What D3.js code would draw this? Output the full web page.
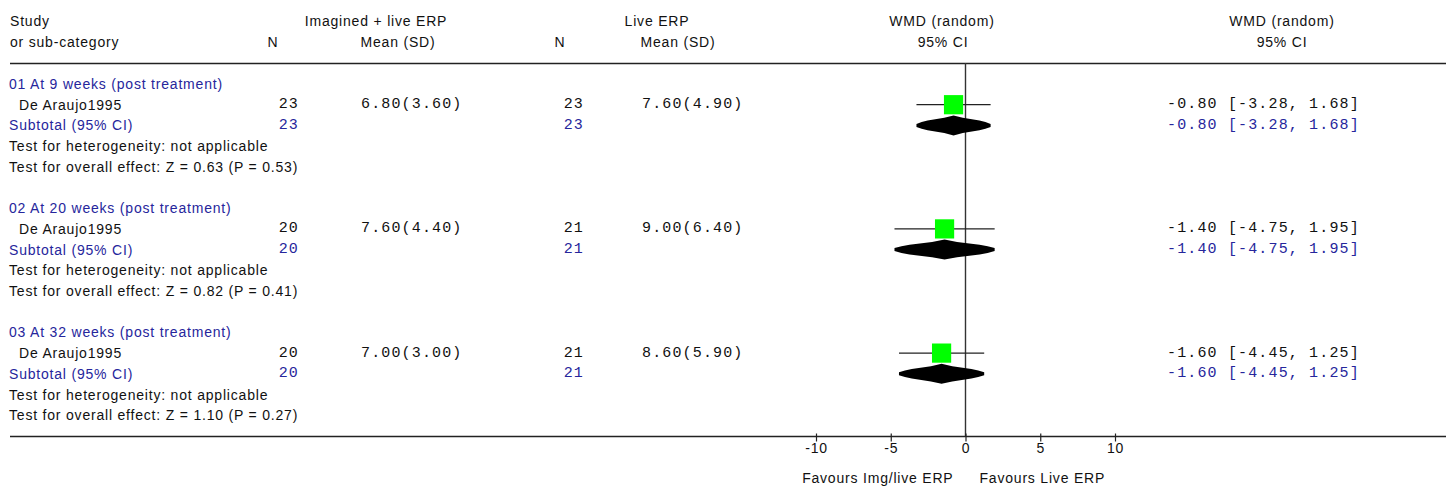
<!DOCTYPE html>
<html><head><meta charset="utf-8">
<script src="https://cdn.jsdelivr.net/npm/d3@7"></script>
<style>
html,body{margin:0;padding:0;background:#fff;}
svg{display:block;}
.sans{font-family:"Liberation Sans",Arial,sans-serif;font-size:14px;letter-spacing:0.8px;}
.mono{font-family:"Liberation Mono","Courier New",monospace;font-size:15px;letter-spacing:1.15px;}
</style>
</head><body>
<script>
// ---- data ----
const groups = ["01 At 9 weeks (post treatment)", "02 At 20 weeks (post treatment)", "03 At 32 weeks (post treatment)"];
const studies = ["De Araujo1995", "De Araujo1995", "De Araujo1995"];
const nImagined = [23, 20, 20];
const meanImagined = ["6.80(3.60)", "7.60(4.40)", "7.00(3.00)"];
const nLive = [23, 21, 21];
const meanLive = ["7.60(4.90)", "9.00(6.40)", "8.60(5.90)"];
const wmd = [-0.80, -1.40, -1.60];
const ciLow = [-3.28, -4.75, -4.45];
const ciHigh = [1.68, 1.95, 1.25];
const heterogeneity = ["Test for heterogeneity: not applicable", "Test for heterogeneity: not applicable", "Test for heterogeneity: not applicable"];
const overall = ["Test for overall effect: Z = 0.63 (P = 0.53)", "Test for overall effect: Z = 0.82 (P = 0.41)", "Test for overall effect: Z = 1.10 (P = 0.27)"];
const axisTicks = [-10, -5, 0, 5, 10];
const favoursLeft = "Favours Img/live ERP";
const favoursRight = "Favours Live ERP";

const W = 1453, H = 488;
const BLUE = "#26269c", INK = "#111";
const svg = d3.select("body").append("svg").attr("width", W).attr("height", H);

const x = d3.scaleLinear().domain([-10, 10]).range([816, 1115]);
const y = d3.scaleLinear().domain([0, 16]).range([84, 415.2]);

function txt(xp, yp, s, opts = {}) {
  return svg.append("text").attr("x", xp).attr("y", yp)
    .attr("class", opts.mono ? "mono" : "sans")
    .attr("fill", opts.color || INK)
    .attr("text-anchor", opts.anchor || "start")
    .attr("dominant-baseline", "central")
    .text(s);
}

// header
txt(10, 21, "Study");
txt(10, 42, "or sub-category");
txt(376, 21, "Imagined + live ERP", {anchor: "middle"});
txt(273, 42, "N", {anchor: "middle"});
txt(398, 42, "Mean (SD)", {anchor: "middle"});
txt(657, 21, "Live ERP", {anchor: "middle"});
txt(560, 42, "N", {anchor: "middle"});
txt(678, 42, "Mean (SD)", {anchor: "middle"});
txt(942, 21, "WMD (random)", {anchor: "middle"});
txt(943, 42, "95% CI", {anchor: "middle"});
txt(1282, 21, "WMD (random)", {anchor: "middle"});
txt(1282, 42, "95% CI", {anchor: "middle"});

svg.append("line").attr("x1", 10).attr("x2", 1446).attr("y1", 63.5).attr("y2", 63.5)
  .attr("stroke", "#222").attr("stroke-width", 1.6);

// zero line
svg.append("line").attr("x1", x(0)).attr("x2", x(0)).attr("y1", 63).attr("y2", 436)
  .attr("stroke", "#333").attr("stroke-width", 1.4);

const fmt = v => (v < 0 ? "-" : "") + Math.abs(v).toFixed(2);

groups.forEach((g, i) => {
  const r0 = i * 6;
  txt(9, y(r0), g, {color: BLUE});
  txt(19, y(r0 + 1), studies[i]);
  txt(299, y(r0 + 1), String(nImagined[i]), {mono: true, anchor: "end"});
  txt(361, y(r0 + 1), meanImagined[i], {mono: true});
  txt(584, y(r0 + 1), String(nLive[i]), {mono: true, anchor: "end"});
  txt(642, y(r0 + 1), meanLive[i], {mono: true});
  const ciText = fmt(wmd[i]) + " [" + fmt(ciLow[i]) + ", " + fmt(ciHigh[i]) + "]";
  txt(1167, y(r0 + 1), ciText, {mono: true});

  txt(9, y(r0 + 2), "Subtotal (95% CI)", {color: BLUE});
  txt(299, y(r0 + 2), String(nImagined[i]), {mono: true, anchor: "end", color: BLUE});
  txt(584, y(r0 + 2), String(nLive[i]), {mono: true, anchor: "end", color: BLUE});
  txt(1167, y(r0 + 2), ciText, {mono: true, color: BLUE});

  txt(9, y(r0 + 3), heterogeneity[i]);
  txt(9, y(r0 + 4), overall[i]);

  // study CI line and square
  const ys = y(r0 + 1);
  svg.append("line").attr("x1", x(ciLow[i])).attr("x2", x(ciHigh[i]))
    .attr("y1", ys).attr("y2", ys).attr("stroke", "#222").attr("stroke-width", 1.3);
  svg.append("rect").attr("x", x(wmd[i]) - 9.6).attr("y", ys - 9.6)
    .attr("width", 19.2).attr("height", 19.2).attr("fill", "#00ff00");

  // diamond (rounded-profile, as drawn by the original)
  const yd = y(r0 + 2);
  const lo = x(ciLow[i]), hi = x(ciHigh[i]), c = x(wmd[i]);
  const prof = [[0, 1.5], [0.14, 3.3], [0.3, 4.8], [0.75, 7.6], [1, 10]];
  const top = [], bot = [];
  prof.forEach(([t, h]) => { top.push([lo + t * (c - lo), yd - h]); });
  prof.slice(0, -1).reverse().forEach(([t, h]) => { top.push([hi - t * (hi - c), yd - h]); });
  prof.forEach(([t, h]) => { bot.push([lo + t * (c - lo), yd + h]); });
  prof.slice(0, -1).reverse().forEach(([t, h]) => { bot.push([hi - t * (hi - c), yd + h]); });
  const pts = top.concat(bot.reverse());
  svg.append("polygon").attr("points", pts.map(p => p.join(",")).join(" ")).attr("fill", "#000");
});

// bottom axis line
svg.append("line").attr("x1", 10).attr("x2", 1446).attr("y1", 436.5).attr("y2", 436.5)
  .attr("stroke", "#222").attr("stroke-width", 1.6);

const axis = d3.axisBottom(x).tickValues(axisTicks).tickSize(5).tickSizeOuter(0).tickFormat(d => String(d));
const ag = svg.append("g").attr("transform", "translate(0,436.5)").call(axis);
ag.select(".domain").remove();
ag.selectAll(".tick line").attr("stroke", "#222").attr("stroke-width", 1.2).attr("y1", -3);
ag.selectAll(".tick text").attr("class", "sans").attr("font-family", null).attr("font-size", null)
  .attr("fill", INK).attr("y", 7).attr("dy", "0.71em");

txt(x(0) - 12, 478, favoursLeft, {anchor: "end"});
txt(x(0) + 14, 478, favoursRight, {anchor: "start"});
</script>
</body></html>
